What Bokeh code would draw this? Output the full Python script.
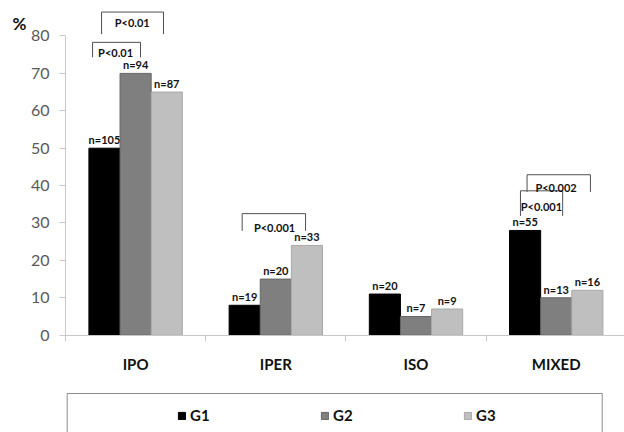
from bokeh.plotting import figure
from bokeh.models import (ColumnDataSource, FixedTicker, Label, Legend, LegendItem,
                          BoxAnnotation, Range1d, LinearAxis)
from bokeh.core.properties import value
from bokeh.embed import file_html
from bokeh.resources import INLINE

# ---------------- data ----------------
categories = ["IPO", "IPER", "ISO", "MIXED"]
groups = ["G1", "G2", "G3"]
g1_pct = [50, 8, 11, 28]
g2_pct = [70, 15, 5, 10]
g3_pct = [65, 24, 7, 12]
g1_n = [105, 19, 20, 55]
g2_n = [94, 20, 7, 13]
g3_n = [87, 33, 9, 16]
y_ticks = [0, 10, 20, 30, 40, 50, 60, 70, 80]

# significance brackets
br_category = ["IPO", "IPO", "IPER", "MIXED", "MIXED"]
br_label = ["P<0.01", "P<0.01", "P<0.001", "P<0.001", "P<0.002"]
# bracket geometry (offsets inside the category slot, y in % units)
br_left = [0.193, 0.257, 0.26, 0.245, 0.292]
br_right = [0.535, 0.699, 0.712, 0.546, 0.744]
br_top = [78.3, 86.4, 32.5, 38.6, 42.9]
br_bottom = [74.3, 80.5, 27.9, 31.9, 38.3]
br_text_x = [0.357, 0.476, 0.491, 0.394, 0.499]
br_text_y = [75.5, 83.7, 28.9, 34.5, 39.4]

colors = ["#000000", "#7f7f7f", "#bfbfbf"]
edge_colors = ["#000000", "#666666", "#a8a8a8"]
FONT = "Lato"

series = [g1_pct, g2_pct, g3_pct]
counts = [g1_n, g2_n, g3_n]

W, H = 624, 432
p = figure(width=W, height=H, output_backend="svg", toolbar_location=None,
           x_range=Range1d(-0.4636, 3.987), y_range=Range1d(-26.02, 89.49),
           x_axis_location=None, y_axis_location=None,
           min_border=0, min_border_left=0, min_border_right=0,
           min_border_top=0, min_border_bottom=0)
p.outline_line_color = None
p.xgrid.visible = False
p.ygrid.visible = False
p.background_fill_color = "white"

bar_w = 0.222
offsets = [-0.222, 0.0, 0.222]
renderers = []
for gi, (vals, ns) in enumerate(zip(series, counts)):
    xs = [i + 0.5 + offsets[gi] for i in range(len(categories))]
    src = ColumnDataSource(dict(x=xs, top=vals, lab=["n=%d" % n for n in ns]))
    r = p.vbar(x="x", top="top", width=bar_w, source=src, fill_color=colors[gi],
               line_color=edge_colors[gi], line_width=1)
    renderers.append(r)
    p.text(x="x", y="top", text="lab", source=src, text_align="center",
           text_baseline="bottom", y_offset=-2, text_font=value(FONT),
           text_font_size="11px", text_font_style="bold", text_color="#111111")

# brackets
cat_idx = {c: i for i, c in enumerate(categories)}
bxs, bys, tx, ty = [], [], [], []
for c, l, r, t, b, x0, y0 in zip(br_category, br_left, br_right, br_top, br_bottom,
                                 br_text_x, br_text_y):
    i = cat_idx[c]
    bxs.append([i + l, i + l, i + r, i + r])
    bys.append([b, t, t, b])
    tx.append(i + x0)
    ty.append(y0)
p.multi_line(xs=bxs, ys=bys, line_color="#505050", line_width=1)
p.text(x=tx, y=ty, text=br_label, text_align="center", text_baseline="middle",
       text_font=value(FONT), text_font_size="11px", text_font_style="bold",
       text_color="#111111")

# axes (fixed at the data origin)
xa = LinearAxis(fixed_location=0)
xa.bounds = (0, len(categories))
xa.ticker = FixedTicker(ticks=[i + 0.5 for i in range(len(categories))],
                        minor_ticks=list(range(len(categories) + 1)))
xa.major_label_overrides = {i + 0.5: c for i, c in enumerate(categories)}
xa.major_tick_line_color = None
xa.major_tick_out = 0
xa.major_tick_in = 0
xa.minor_tick_out = 6
xa.minor_tick_in = 0
xa.minor_tick_line_color = "#c8c8c8"
xa.axis_line_color = "#c8c8c8"
xa.major_label_standoff = 14
xa.major_label_text_font = FONT
xa.major_label_text_font_size = "15px"
xa.major_label_text_font_style = "bold"
xa.major_label_text_color = "#111111"
p.add_layout(xa, "below")

ya = LinearAxis(fixed_location=0)
ya.ticker = FixedTicker(ticks=y_ticks)
ya.bounds = (0, 80)
ya.minor_tick_line_color = None
ya.major_tick_out = 6
ya.major_tick_in = 0
ya.major_tick_line_color = "#c8c8c8"
ya.axis_line_color = "#c8c8c8"
ya.major_label_standoff = 10
ya.major_label_text_font = FONT
ya.major_label_text_font_size = "16px"
ya.major_label_text_color = "#595959"
p.add_layout(ya, "left")

p.add_layout(Label(x=19, y=H - 23, x_units="screen", y_units="screen", text="%",
                   text_align="center", text_baseline="middle", text_font=FONT,
                   text_font_size="17px", text_font_style="bold", text_color="#111111"))

# legend box and legend
p.add_layout(BoxAnnotation(left=0.012, right=3.828, top=-15.6, bottom=-40,
                           fill_alpha=0, fill_color=None, line_color="#8c8c8c",
                           line_width=1, line_alpha=1))
legend = Legend(items=[LegendItem(label=g, renderers=[r]) for g, r in zip(groups, renderers)],
                location=(177, 8), orientation="horizontal",
                border_line_color=None, background_fill_alpha=0, padding=0, margin=0,
                spacing=110, glyph_width=9, glyph_height=9, label_standoff=4,
                label_width=20, label_text_font=FONT, label_text_font_size="15px",
                label_text_font_style="bold", label_text_color="#111111")
p.add_layout(legend)

open("out.html", "w").write(file_html(p, INLINE))
